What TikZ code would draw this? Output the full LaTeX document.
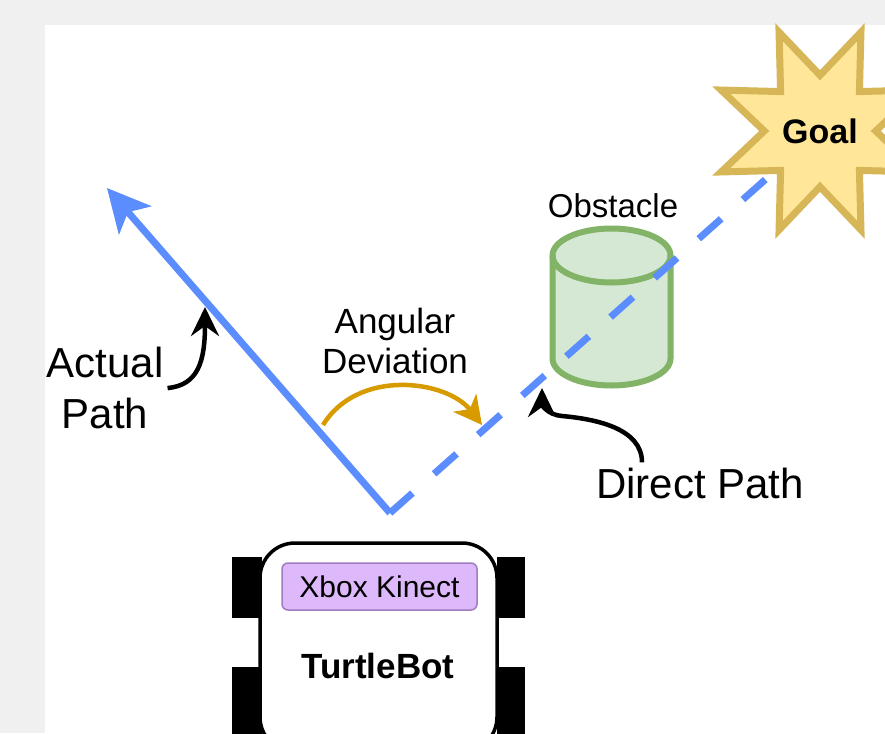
\documentclass[tikz,border=0pt]{standalone}
\usepackage{fontspec}
\setmainfont{Liberation Sans}
\usetikzlibrary{arrows.meta,shapes.geometric}

\definecolor{pagebg}{HTML}{F0F0F0}
\definecolor{pathblue}{HTML}{5B8DFF}
\definecolor{devgold}{HTML}{D79B00}
\definecolor{obsfill}{HTML}{D5E8D4}
\definecolor{obsline}{HTML}{82B366}
\definecolor{goalfill}{HTML}{FFE699}
\definecolor{goalline}{HTML}{D6B656}
\definecolor{kinfill}{HTML}{DDB8FA}
\definecolor{kinline}{HTML}{A07CC0}

\tikzset{
  route/.style={pathblue, line width=7pt},
  callout/.style={black, line width=4.5pt, -{Stealth[length=29pt,width=28pt,inset=10pt]}},
  bigtext/.style={inner sep=0pt, font=\fontsize{42}{51}\selectfont, align=center},
  midtext/.style={inner sep=0pt, font=\fontsize{35}{40}\selectfont, align=center},
  wheel/.style={fill=black},
}

\begin{document}
\begin{tikzpicture}[x=1pt,y=-1pt]
\useasboundingbox (0,0) rectangle (885,733);
\clip (0,0) rectangle (885,733);
\fill[pagebg] (0,0) rectangle (885,733);
\fill[white] (45,25) rectangle (885,733);

% goal star
\node[star, star points=8, star point ratio=1.92, shape border rotate=22.5,
      minimum size=214pt, draw=goalline, fill=goalfill, line width=7pt, inner sep=0pt,
      font=\bfseries\fontsize{34}{40}\selectfont] (goal) at (820,131) {Goal};

% obstacle cylinder
\draw[obsline, fill=obsfill, line width=6pt]
  (552.5,255.5) -- (552.5,358.5)
  arc[start angle=180, end angle=0, x radius=59, y radius=27]
  -- (670.5,255.5)
  arc[start angle=0, end angle=-180, x radius=59, y radius=27] -- cycle;
\draw[obsline, line width=6pt]
  (552.5,255.5) arc[start angle=180, end angle=0, x radius=59, y radius=27];
\node[inner sep=0pt, font=\fontsize{33}{40}\selectfont, anchor=base] (obstacle) at (613,217) {Obstacle};

% paths from the robot
\coordinate (corner) at (390,513);
\coordinate (actualtip) at (107,188);
\draw[route, -{Stealth[length=42.6pt,width=42.5pt,inset=10.6pt]}] (corner) -- (actualtip);
\draw[route, dash pattern=on 30pt off 29pt] (corner) -- (goal);

% angular deviation
\node[midtext, anchor=north] (angular) at (395,308) {Angular\\Deviation};
\coordinate (devstart) at (323,425);
\coordinate (devend) at (482,425);
\draw[devgold, line width=4.5pt, -{Stealth[length=28pt,width=29pt,inset=8pt]}]
  (devstart) .. controls (358,368) and (447,380) .. (devend);

% actual path label
\node[bigtext, anchor=north] (actual) at (105,347) {Actual\\Path};
\coordinate (actualpt) at (205,307);
\draw[callout] ([xshift=4pt]actual.east) .. controls (198,385) and (205,362) .. (actualpt);

% direct path label
\node[inner sep=0pt, font=\fontsize{42}{51}\selectfont, anchor=base] (direct) at (700,498) {Direct Path};
\coordinate (directpt) at (542,388);
\draw[callout] ([xshift=-58pt,yshift=5pt]direct.north) .. controls (642,428) and (595,419) .. (562,416)
  .. controls (548,415) and (542,405) .. (directpt);

% turtlebot
\fill[wheel] (232,557) rectangle (262,618);
\fill[wheel] (232,667) rectangle (262,750);
\fill[wheel] (497,557) rectangle (525,618);
\fill[wheel] (497,667) rectangle (525,750);
\node[draw=black, fill=white, line width=3.5pt, rounded corners=35pt,
      minimum width=237pt, minimum height=209pt, inner sep=0pt] (bot) at (378.5,647.5) {};
\node[draw=kinline, fill=kinfill, line width=1.5pt, rounded corners=6pt,
      minimum width=195pt, minimum height=47pt, inner sep=0pt,
      font=\fontsize{30}{36}\selectfont] (kinect) at (379.5,586.5) {Xbox Kinect};
\node[inner sep=0pt, font=\bfseries\fontsize{35}{42}\selectfont, anchor=base] (name) at (378,678) {TurtleBot};
\end{tikzpicture}
\end{document}
